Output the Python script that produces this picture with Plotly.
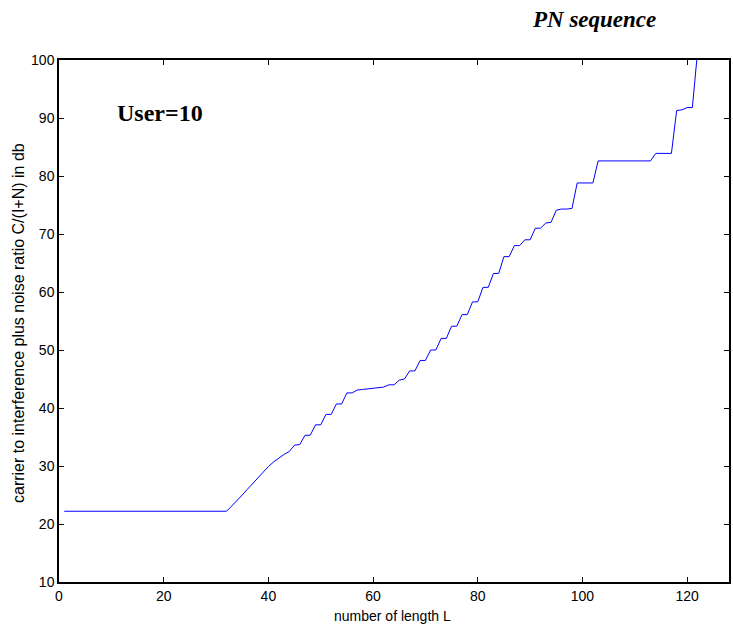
import plotly.graph_objects as go

length_L = list(range(1, 123))
cir_db = [
    22.2, 22.2, 22.2, 22.2, 22.2, 22.2, 22.2, 22.2, 22.2, 22.2,
    22.2, 22.2, 22.2, 22.2, 22.2, 22.2, 22.2, 22.2, 22.2, 22.2,
    22.2, 22.2, 22.2, 22.2, 22.2, 22.2, 22.2, 22.2, 22.2, 22.2,
    22.2, 22.2, 23.1, 24.0, 25.0, 26.0, 27.0, 28.0, 29.0, 29.9,
    30.7, 31.4, 32.0, 32.5, 33.6, 33.7, 35.3, 35.3, 37.1, 37.1,
    38.9, 38.9, 40.7, 40.7, 42.6, 42.6, 43.1, 43.2, 43.3, 43.3,
    43.5, 43.6, 44.0, 44.0, 44.8, 45.0, 46.4, 46.4, 48.2, 48.2,
    50.0, 50.0, 52.0, 52.0, 54.1, 54.1, 56.1, 56.1, 58.3, 58.3,
    60.8, 60.8, 63.2, 63.2, 66.1, 66.1, 68.0, 68.0, 69.0, 69.0,
    71.0, 71.0, 71.9, 72.0, 74.1, 74.3, 74.3, 74.4, 78.8, 78.8,
    78.8, 78.8, 82.6, 82.6, 82.6, 82.6, 82.6, 82.6, 82.6, 82.6,
    82.6, 82.6, 82.6, 83.9, 83.9, 83.9, 83.9, 91.3, 91.4, 91.8,
    91.8, 101.5,
]
x_ticks = [0, 20, 40, 60, 80, 100, 120]
y_ticks = [10, 20, 30, 40, 50, 60, 70, 80, 90, 100]

SANS = "Liberation Sans, Arial"
SERIF = "Liberation Serif, Times New Roman"

fig = go.Figure()
fig.add_trace(go.Scatter(
    x=length_L, y=cir_db, mode="lines",
    line=dict(color="rgb(0,0,255)", width=1),
    showlegend=False, hoverinfo="skip",
))

axis_common = dict(
    showgrid=False, zeroline=False, showline=True, linecolor="black", linewidth=1.5,
    mirror="ticks", ticks="inside", ticklen=5, tickwidth=1, tickcolor="black",
    tickfont=dict(family=SANS, size=14, color="black"),
)

fig.update_layout(
    width=733, height=632,
    margin=dict(l=59, r=2, t=60, b=50),
    paper_bgcolor="white", plot_bgcolor="white",
    xaxis=dict(range=[0, 128], tickvals=x_ticks, **axis_common),
    yaxis=dict(range=[10, 100], tickvals=y_ticks, **axis_common),
    annotations=[
        dict(text="number of length L", xref="paper", yref="paper",
             x=0.4985, y=0, yshift=-34, xanchor="center", yanchor="middle", showarrow=False,
             font=dict(family=SANS, size=14, color="black")),
        dict(text="carrier to interference plus noise ratio C/(I+N) in db", xref="paper", yref="paper",
             x=0, xshift=-40.5, y=0.5, yshift=-2.5, textangle=-90,
             xanchor="center", yanchor="middle", showarrow=False,
             font=dict(family=SANS, size=16, color="black")),
        dict(text="<b><i>PN sequence</i></b>", xref="paper", yref="paper",
             x=0.799, y=1.0, yshift=41, xanchor="center", yanchor="middle", showarrow=False,
             font=dict(family=SERIF, size=23, color="black")),
        dict(text="<b>User=10</b>", xref="x", yref="y",
             x=10.7, y=90.9, xanchor="left", yanchor="middle", showarrow=False,
             font=dict(family=SERIF, size=24, color="black")),
    ],
)

fig.write_html("out.html")
